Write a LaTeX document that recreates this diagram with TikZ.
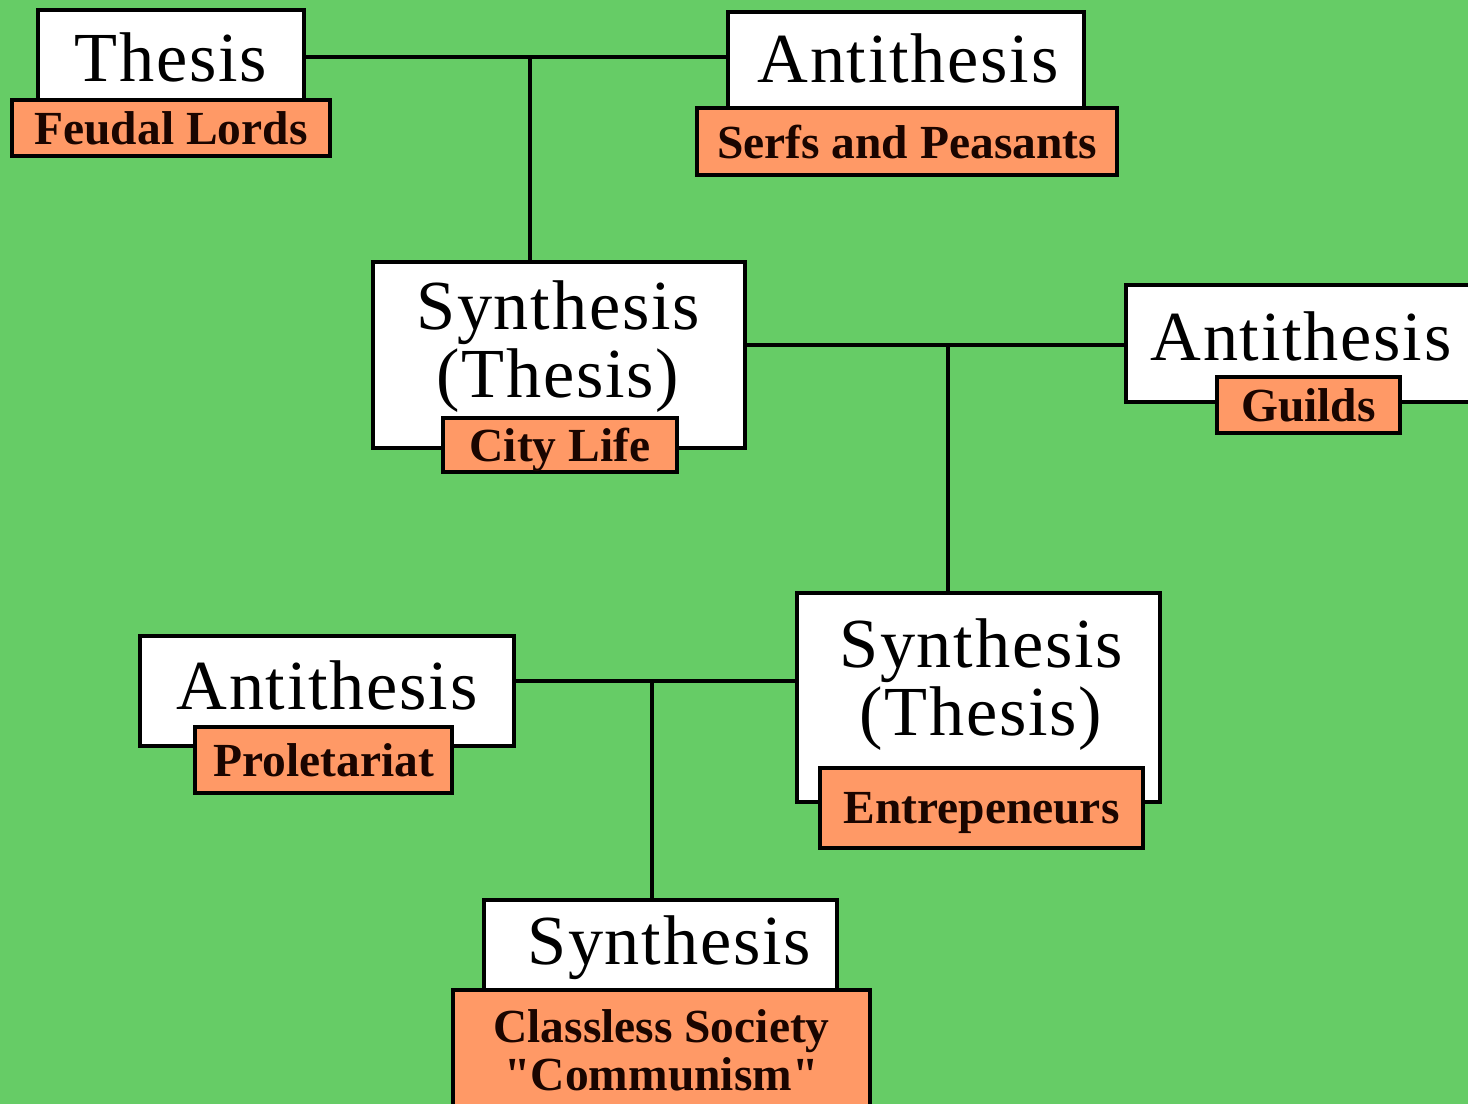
\documentclass[tikz,border=0pt]{standalone}
\usepackage{fontspec}
\setmainfont{Liberation Serif}
\newfontfamily\stagefont[LetterSpace=2.5]{Liberation Serif}
\definecolor{bggreen}{HTML}{66CC66}
\definecolor{tagorange}{HTML}{FF9966}
\definecolor{tagtext}{HTML}{1A0500}
\tikzset{
  stage/.style={draw=black, fill=white, line width=1.2pt, inner sep=0pt},
  stagetext/.style={align=center, inner sep=0pt, font=\stagefont\fontsize{20}{19.3}\selectfont},
  tag/.style={draw=black, fill=tagorange, line width=1.2pt, inner sep=0pt, text depth=0pt,
    align=center, text=tagtext, font=\bfseries\fontsize{13.5}{13.6}\selectfont},
  link/.style={line width=1.2pt}
}
\begin{document}
\begin{tikzpicture}[x=0.01cm, y=-0.01cm]
\useasboundingbox (0,0) rectangle (1468,1104);
\clip (0,0) rectangle (1468,1104);
\fill[bggreen] (0,0) rectangle (1468,1104);
% white stage boxes
\node[stage, minimum width=2.66cm, minimum height=0.90cm] (thesis) at (171,55) {};
\node[stage, minimum width=3.56cm, minimum height=0.96cm] (anti1) at (906,60) {};
\node[stage, minimum width=3.72cm, minimum height=1.86cm] (syn1) at (559,355) {};
\node[stage, minimum width=3.54cm, minimum height=1.17cm] (anti2) at (1303,343.5) {};
\node[stage, minimum width=3.63cm, minimum height=2.09cm] (syn2) at (978.5,697.5) {};
\node[stage, minimum width=3.74cm, minimum height=1.10cm] (prol) at (327,691) {};
\node[stage, minimum width=3.53cm, minimum height=0.90cm] (synb) at (660.5,945) {};
% connectors
\coordinate (j1) at (530,57);
\draw[link] (thesis.east |- j1) -- (anti1.west |- j1);
\draw[link] (j1) -- (j1 |- syn1.north);
\coordinate (j2) at (948,345);
\draw[link] (syn1.east |- j2) -- (anti2.west |- j2);
\draw[link] (j2) -- (j2 |- syn2.north);
\coordinate (j3) at (652,681);
\draw[link] (prol.east |- j3) -- (syn2.west |- j3);
\draw[link] (j3) -- (j3 |- synb.north);
% stage names
\node[stagetext] (thesis-t) at (171,57) {Thesis};
\node[stagetext] (anti1-t) at (908,58) {Antithesis};
\node[stagetext] (syn1-t) at (558,347) {Synthesis\\(Thesis)};
\node[stagetext] (anti2-t) at (1301,336) {Antithesis};
\node[stagetext] (syn2-t) at (981,685) {Synthesis\\(Thesis)};
\node[stagetext] (prol-t) at (327,685) {Antithesis};
\node[stagetext] (synb-t) at (669,948) {Synthesis};
% orange tags
\node[tag, minimum width=3.18cm, minimum height=0.56cm] (feudal) at (171,128) {Feudal Lords};
\node[tag, minimum width=4.20cm, minimum height=0.67cm] (serfs) at (907,141.5) {Serfs and Peasants};
\node[tag, minimum width=2.34cm, minimum height=0.54cm] (city) at (560,445) {City Life};
\node[tag, minimum width=1.83cm, minimum height=0.56cm] (guilds) at (1308.5,405) {Guilds};
\node[tag, minimum width=2.57cm, minimum height=0.66cm] (proles) at (323.5,760) {Proletariat};
\node[tag, minimum width=3.23cm, minimum height=0.80cm] (entre) at (981.5,808) {Entrepeneurs};
\node[tag, minimum width=4.17cm, minimum height=1.20cm] (classless) at (661.5,1050) {Classless Society\\\textquotedbl Communism\textquotedbl};
\end{tikzpicture}
\end{document}
